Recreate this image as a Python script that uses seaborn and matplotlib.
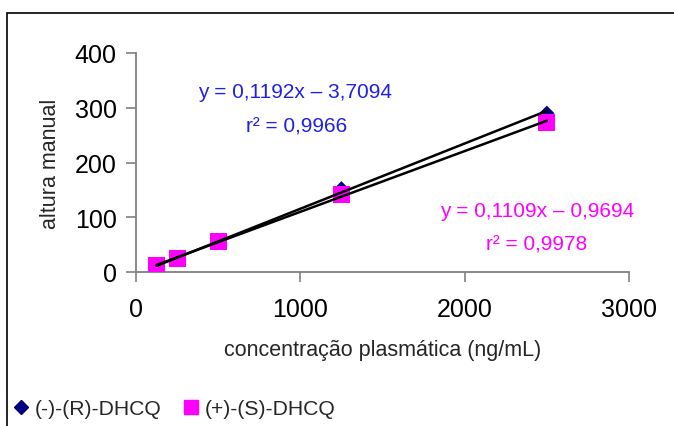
import numpy as np
import pandas as pd
import matplotlib
matplotlib.use("Agg")
import matplotlib.pyplot as plt
from matplotlib.patches import Rectangle
from matplotlib.lines import Line2D
import seaborn as sns

# ---- data ----
conc = [125, 250, 500, 1250, 2500]
r_dhcq = [11, 26, 57, 152, 290]
s_dhcq = [11, 24, 55, 141, 273]
series_names = ["(-)-(R)-DHCQ", "(+)-(S)-DHCQ"]
slopes = [0.1192, 0.1109]
intercepts = [-3.7094, -0.9694]
eq_texts = ["y = 0,1192x – 3,7094", "y = 0,1109x – 0,9694"]
r2_texts = ["r² = 0,9966", "r² = 0,9978"]
x_ticks = [0, 1000, 2000, 3000]
y_ticks = [0, 100, 200, 300, 400]

sns.set_theme(style="white")
plt.rcParams["font.family"] = ["Liberation Sans", "DejaVu Sans"]

fig = plt.figure(figsize=(6.74, 4.27), dpi=100)
ax = fig.add_axes([136/674, 1-273/427, (629-136)/674, (273-54)/427])

df = pd.DataFrame({
    "x": conc * 2,
    "y": r_dhcq + s_dhcq,
    "s": [series_names[0]] * len(conc) + [series_names[1]] * len(conc),
})
colors = {series_names[0]: "#000080", series_names[1]: "#FF00FF"}
sns.scatterplot(data=df[df.s == series_names[0]], x="x", y="y", color=colors[series_names[0]],
                marker="D", s=60, edgecolor="none", ax=ax, legend=False, zorder=3)
sns.scatterplot(data=df[df.s == series_names[1]], x="x", y="y", color=colors[series_names[1]],
                marker="s", s=150, edgecolor="none", ax=ax, legend=False, zorder=4)

xr = np.array([min(conc), max(conc)])
for m, b in zip(slopes, intercepts):
    sns.lineplot(x=xr, y=m * xr + b, color="black", lw=1.8, ax=ax, zorder=5)

ax.set_xlim(0, 3000)
ax.set_ylim(0, 400)
ax.set_xticks(x_ticks)
ax.set_yticks(y_ticks)
ax.tick_params(axis="both", labelsize=18, colors="#808080", labelcolor="black",
               length=7, width=1.2, direction="out", bottom=True, left=True)
ax.tick_params(axis="x", pad=11)
ax.tick_params(axis="y", pad=7)
for sp in ["top", "right"]:
    ax.spines[sp].set_visible(False)
for sp in ["left", "bottom"]:
    ax.spines[sp].set_color("#808080")
    ax.spines[sp].set_linewidth(1.3)

ax.set_xlabel("concentração plasmática (ng/mL)", fontsize=15.5, labelpad=13)
ax.set_ylabel("altura manual", fontsize=15.5, labelpad=10)

fig.text(295/674, 1-93/427, eq_texts[0], fontsize=15, color="#2020E6", ha="center", va="center")
fig.text(297/674, 1-127/427, r2_texts[0], fontsize=15, color="#2020E6", ha="center", va="center")
fig.text(537/674, 1-212/427, eq_texts[1], fontsize=15, color="#FF00FF", ha="center", va="center")
fig.text(537/674, 1-245/427, r2_texts[1], fontsize=15, color="#FF00FF", ha="center", va="center")

handles = [Line2D([], [], marker="D", color=colors[series_names[0]], ls="none", markersize=7),
           Line2D([], [], marker="s", color=colors[series_names[1]], ls="none", markersize=10)]
fig.legend(handles, series_names, loc="center left", bbox_to_anchor=(10/674, 1-410/427),
           frameon=False, fontsize=15.2, handletextpad=0.15, columnspacing=0.9, ncol=2,
           handlelength=1.0, borderaxespad=0, borderpad=0)

fig.patches.append(Rectangle((7/674, -0.2), 1.2, 0.2 + 1 - 14/427, transform=fig.transFigure,
                             fill=False, edgecolor="black", lw=1.2))

fig.savefig("out.png", dpi=100)
